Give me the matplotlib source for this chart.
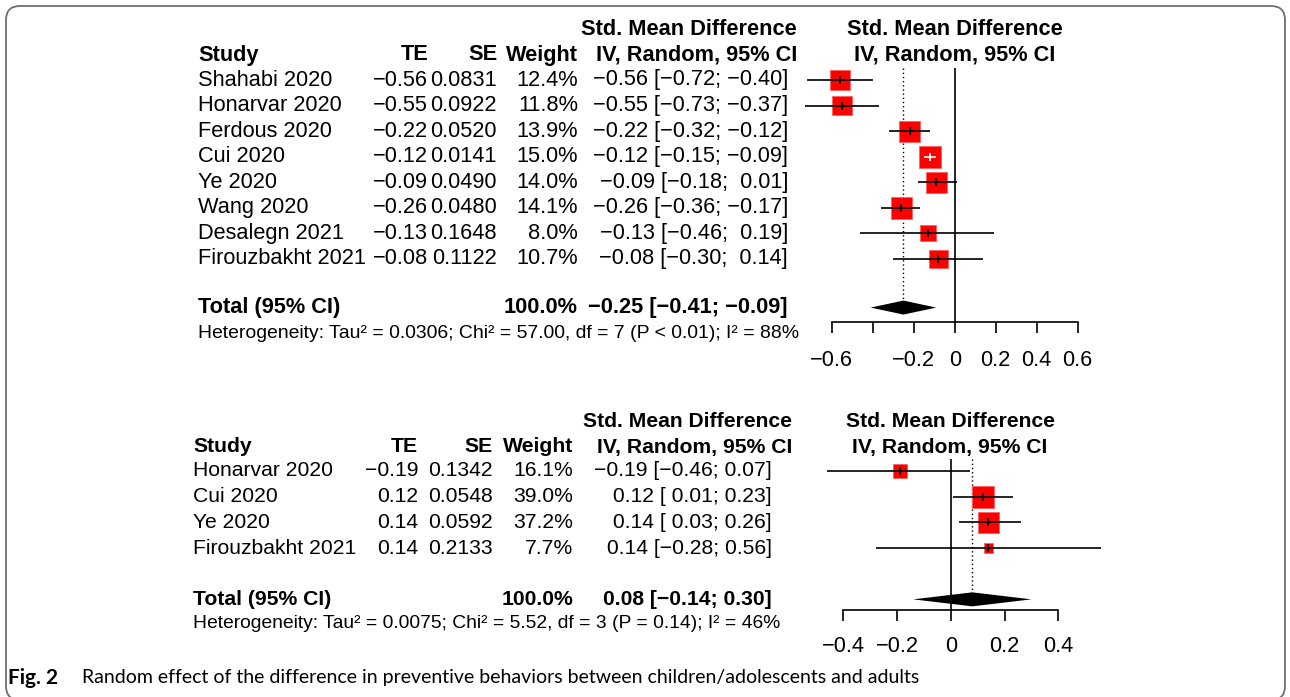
import matplotlib
matplotlib.use('Agg')
import matplotlib.pyplot as plt
import numpy as np
from matplotlib.patches import FancyBboxPatch
from matplotlib.transforms import IdentityTransform

plt.rcParams['font.family'] = ['Liberation Sans', 'DejaVu Sans']

W, H = 1290, 697

# ---- data, panel 1 ----
studies1 = ['Shahabi 2020', 'Honarvar 2020', 'Ferdous 2020', 'Cui 2020', 'Ye 2020',
            'Wang 2020', 'Desalegn 2021', 'Firouzbakht 2021']
te1 = [-0.56, -0.55, -0.22, -0.12, -0.09, -0.26, -0.13, -0.08]
se1 = [0.0831, 0.0922, 0.0520, 0.0141, 0.0490, 0.0480, 0.1648, 0.1122]
w1 = [12.4, 11.8, 13.9, 15.0, 14.0, 14.1, 8.0, 10.7]
lo1 = [-0.72, -0.73, -0.32, -0.15, -0.18, -0.36, -0.46, -0.30]
hi1 = [-0.40, -0.37, -0.12, -0.09, 0.01, -0.17, 0.19, 0.14]
tot1 = [-0.25, -0.41, -0.09]
het1 = 'Heterogeneity: Tau² = 0.0306; Chi² = 57.00, df = 7 (P < 0.01); I² = 88%'
ticks1 = [-0.6, -0.4, -0.2, 0, 0.2, 0.4, 0.6]
ticklab1 = ['−0.6', '', '−0.2', '0', '0.2', '0.4', '0.6']

# ---- data, panel 2 ----
studies2 = ['Honarvar 2020', 'Cui 2020', 'Ye 2020', 'Firouzbakht 2021']
te2 = [-0.19, 0.12, 0.14, 0.14]
se2 = [0.1342, 0.0548, 0.0592, 0.2133]
w2 = [16.1, 39.0, 37.2, 7.7]
lo2 = [-0.46, 0.01, 0.03, -0.28]
hi2 = [0.07, 0.23, 0.26, 0.56]
tot2 = [0.08, -0.14, 0.30]
het2 = 'Heterogeneity: Tau² = 0.0075; Chi² = 5.52, df = 3 (P = 0.14); I² = 46%'
ticks2 = [-0.4, -0.2, 0, 0.2, 0.4]
ticklab2 = ['−0.4', '−0.2', '0', '0.2', '0.4']

caption = 'Random effect of the difference in preventive behaviors between children/adolescents and adults'


def fmt_col(vals, nd):
    s = [f'{v:.{nd}f}' for v in vals]
    n = max(len(x) for x in s)
    return [x.rjust(n).replace('-', '−') for x in s]


fig = plt.figure(figsize=(W / 100, H / 100), dpi=100)


def T(x, y, s, **kw):
    kw.setdefault('va', 'center')
    fig.text(x / W, 1 - y / H, s, **kw)


def panel(studies, te, se, w, lo, hi, tot, het, ticks, ticklab, p):
    fs = p['fs']
    # table
    T(p['c_study'], p['y_head'], 'Study', fontsize=fs, fontweight='bold')
    T(p['c_te'], p['y_head'], 'TE', fontsize=fs, fontweight='bold', ha='right')
    T(p['c_se'], p['y_head'], 'SE', fontsize=fs, fontweight='bold', ha='right')
    T(p['c_w'], p['y_head'], 'Weight', fontsize=fs, fontweight='bold', ha='right')
    T(p['c_hd'], p['y_head'] - p['dy'], 'Std. Mean Difference', fontsize=fs, fontweight='bold', ha='right')
    T(p['c_hd'], p['y_head'], 'IV, Random, 95% CI', fontsize=fs, fontweight='bold', ha='right')
    T(p['c_plot'], p['y_head'] - p['dy'], 'Std. Mean Difference', fontsize=fs, fontweight='bold', ha='center')
    T(p['c_plot'], p['y_head'], 'IV, Random, 95% CI', fontsize=fs, fontweight='bold', ha='center')
    tes = fmt_col(te, 2)
    los = fmt_col(lo, 2)
    his = fmt_col(hi, 2)
    for i, name in enumerate(studies):
        y = p['y0'] + i * p['dy']
        T(p['c_study'], y, name, fontsize=fs)
        T(p['c_te'], y, tes[i].strip(), fontsize=fs, ha='right')
        T(p['c_se'], y, f'{se[i]:.4f}', fontsize=fs, ha='right')
        T(p['c_w'], y, f'{w[i]:.1f}%', fontsize=fs, ha='right')
        T(p['c_ci'], y, f'{tes[i]} [{los[i]}; {his[i]}]', fontsize=fs, ha='right')
    yt = p['y0'] + p['row_tot'] * p['dy']
    T(p['c_study'], yt, 'Total (95% CI)', fontsize=fs, fontweight='bold')
    T(p['c_w'], yt, '100.0%', fontsize=fs, fontweight='bold', ha='right')
    tt = [f'{v:.2f}'.replace('-', '−') for v in tot]
    T(p['c_ci'], yt, f'{tt[0]} [{tt[1]}; {tt[2]}]', fontsize=fs, fontweight='bold', ha='right')
    T(p['c_study'], p['y_het'], het, fontsize=p['fs_het'])

    # plot
    ax0, ax1, ay0, ay1 = p['ax_px']
    ax = fig.add_axes([ax0 / W, 1 - ay1 / H, (ax1 - ax0) / W, (ay1 - ay0) / H])
    ax.patch.set_visible(False)
    sc = p['px_per_unit']
    ax.set_xlim(ticks[0] - (p['x_first'] - ax0) / sc, ticks[-1] + (ax1 - p['x_last']) / sc)
    ax.set_ylim((ay1 - p['y0']) / p['dy'], (ay0 - p['y0']) / p['dy'])
    rows = np.arange(len(studies))
    axis_row = (p['y_axis'] - p['y0']) / p['dy']
    wmax = max(w)
    side_px = [22 * np.sqrt(x / wmax) for x in w]
    ax.vlines(0, -0.47, axis_row, color='black', lw=1.2)
    ax.vlines(tot[0], -0.47, p['row_tot'], color='black', lw=1.0, linestyles=(0, (1, 2)))
    ax.scatter(te, rows, marker='s', s=[(sp * 0.72) ** 2 for sp in side_px],
               color='#ff0000', edgecolors='#ff6060', linewidths=0.6, zorder=3)
    for i in rows:
        half = side_px[i] / 2 / sc
        inside = (te[i] - lo[i] < half) and (hi[i] - te[i] < half)
        col = 'white' if inside else 'black'
        ax.hlines(i, lo[i], hi[i], color=col, lw=1.2, zorder=4)
        ax.plot(te[i], i, marker='|', ms=6, mew=1.3, color=col, zorder=5)
    h = 7 / p['dy']
    ax.fill([tot[1], tot[0], tot[2], tot[0]],
            [p['row_tot'], p['row_tot'] - h, p['row_tot'], p['row_tot'] + h],
            color='black', lw=0, zorder=4)
    for s in ['top', 'left', 'right']:
        ax.spines[s].set_visible(False)
    ax.spines['bottom'].set_position(('data', axis_row))
    ax.spines['bottom'].set_bounds(ticks[0], ticks[-1])
    ax.spines['bottom'].set_linewidth(1.2)
    ax.set_yticks([])
    ax.set_xticks(ticks)
    ax.set_xticklabels(ticklab)
    ax.tick_params(axis='x', direction='out', length=8, width=1.2, pad=p['pad'], labelsize=p['fs_tick'])


panel(studies1, te1, se1, w1, lo1, hi1, tot1, het1, ticks1, ticklab1,
      dict(fs=15.7, fs_het=13.95, fs_tick=15.7, c_study=198, c_te=428, c_se=497, c_w=578, c_ci=788,
           c_hd=797, c_plot=955, y_head=55, y0=80, dy=25.57, row_tot=8.9, y_het=333,
           ax_px=(790, 1110, 15, 385), px_per_unit=205, x_first=831.7, x_last=1077.7,
           y_axis=322, pad=12))

panel(studies2, te2, se2, w2, lo2, hi2, tot2, het2, ticks2, ticklab2,
      dict(fs=15.2, fs_het=13.9, fs_tick=15.7, c_study=193, c_te=418, c_se=493, c_w=573, c_ci=772,
           c_hd=792, c_plot=950, y_head=447, y0=471, dy=25.67, row_tot=5.0, y_het=623,
           ax_px=(790, 1110, 405, 665), px_per_unit=268.75, x_first=843.3, x_last=1058.3,
           y_axis=610, pad=11))

# caption
T(8, 678, 'Fig. 2', fontsize=15, fontweight='bold', family=['Lato', 'DejaVu Sans'])
T(82, 678, caption, fontsize=14, family=['Lato', 'DejaVu Sans'])

# rounded frame (bottom edge just below the picture)
frame = FancyBboxPatch((6, -3), 1279, H - 3, boxstyle='round,pad=0,rounding_size=14',
                       transform=IdentityTransform(), fill=False, ec='#6f6f6f', lw=1.3)
fig.patches.append(frame)

fig.savefig('out.png', dpi=100)
